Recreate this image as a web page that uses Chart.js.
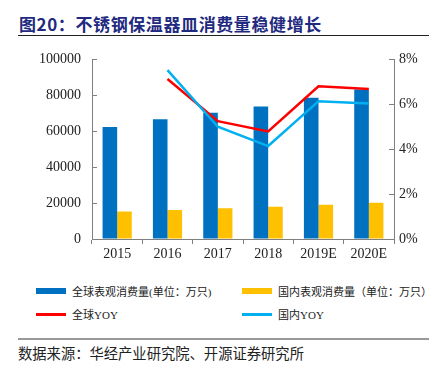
<!DOCTYPE html>
<html>
<head>
<meta charset="utf-8">
<script src="https://cdn.jsdelivr.net/npm/chart.js@4"></script>
<style>
    body { margin: 0; width: 441px; height: 373px; background: #fff; position: relative; overflow: hidden; }
    #title { position: absolute; left: 19px; top: 11px; font: bold 17px "Noto Sans CJK SC"; letter-spacing: 0.6px; color: #1f2a80; white-space: nowrap; }
    #titleLine { position: absolute; left: 18px; top: 35px; width: 411px; height: 1px; background: #222; }
    #chartBox { position: absolute; left: 0; top: 40px; width: 441px; height: 224px; }
    .legend-item { position: absolute; font: 11px "Liberation Serif", "Noto Sans CJK SC"; color: #222; white-space: nowrap; display: flex; align-items: center; }
    .swatch { width: 30px; margin-right: 6px; }
    #sourceLine { position: absolute; left: 18px; top: 338px; width: 411px; height: 1.5px; background: #999; }
    #source { position: absolute; left: 18px; top: 342px; font: 14.3px "Noto Sans CJK SC"; color: #222; white-space: nowrap; }
</style>
</head>
<body>
<div id="title">图20：不锈钢保温器皿消费量稳健增长</div>
<div id="titleLine"></div>
<div id="chartBox"><canvas id="myChart" width="441" height="224"></canvas></div>
<div id="legend"></div>
<div id="sourceLine"></div>
<div id="source">数据来源：华经产业研究院、开源证券研究所</div>
<script>
// Chart data
const years = ['2015', '2016', '2017', '2018', '2019E', '2020E'];
const globalConsumption = [62300, 66700, 70300, 73800, 78700, 83200];
const domesticConsumption = [15300, 16200, 17100, 18000, 19100, 20200];
const globalYoy = [null, 7.13, 5.25, 4.79, 6.8, 6.68];
const domesticYoy = [null, 7.52, 5.0, 4.14, 6.14, 6.04];
const leftTicks = [0, 20000, 40000, 60000, 80000, 100000];
const rightTicks = [0, 2, 4, 6, 8];

const tickFont = { family: 'Liberation Serif', size: 14 };
const axisColor = '#7f7f7f';

// Small tick marks pointing into the plot on both value axes
const innerTicks = {
    id: 'innerTicks',
    afterDraw(chart) {
        const ctx = chart.ctx;
        ctx.save();
        ctx.strokeStyle = axisColor;
        ctx.lineWidth = 1;
        ['y', 'y1'].forEach(id => {
            const scale = chart.scales[id];
            scale.ticks.forEach(t => {
                const py = Math.round(scale.getPixelForValue(t.value)) + 0.5;
                ctx.beginPath();
                if (id === 'y') {
                    ctx.moveTo(scale.right, py);
                    ctx.lineTo(scale.right + 5, py);
                } else {
                    ctx.moveTo(scale.left - 5, py);
                    ctx.lineTo(scale.left, py);
                }
                ctx.stroke();
            });
        });
        ctx.restore();
    }
};

const ctx = document.getElementById('myChart').getContext('2d');
const myChart = new Chart(ctx, {
    type: 'bar',
    data: {
        labels: years,
        datasets: [{
            label: '全球YOY',
            type: 'line',
            data: globalYoy,
            yAxisID: 'y1',
            borderColor: '#ff0000',
            borderWidth: 2.5,
            pointRadius: 0,
            tension: 0,
            order: 1
        }, {
            label: '国内YOY',
            type: 'line',
            data: domesticYoy,
            yAxisID: 'y1',
            borderColor: '#00b0f0',
            borderWidth: 2.5,
            pointRadius: 0,
            tension: 0,
            order: 0
        }, {
            label: '全球表观消费量(单位：万只)',
            data: globalConsumption,
            yAxisID: 'y',
            backgroundColor: '#0070c0',
            barPercentage: 1,
            categoryPercentage: 0.58,
            order: 3
        }, {
            label: '国内表观消费量（单位：万只）',
            data: domesticConsumption,
            yAxisID: 'y',
            backgroundColor: '#ffc000',
            barPercentage: 1,
            categoryPercentage: 0.58,
            order: 3
        }]
    },
    options: {
        responsive: false,
        animation: false,
        layout: { padding: { top: 16, left: 0, right: 0, bottom: 0 } },
        plugins: {
            legend: { display: false },
            tooltip: { enabled: false }
        },
        scales: {
            x: {
                grid: { offset: true, drawOnChartArea: false, color: axisColor, tickLength: 5 },
                border: { color: axisColor, width: 1 },
                ticks: { font: tickFont, color: '#222', padding: 2, maxRotation: 0 },
                afterFit: s => { s.height = 25; }
            },
            y: {
                position: 'left',
                min: 0,
                max: 100000,
                afterBuildTicks: s => { s.ticks = leftTicks.map(v => ({ value: v })); },
                grid: { drawOnChartArea: false, drawTicks: false },
                border: { color: axisColor, width: 1 },
                ticks: { font: tickFont, color: '#222', padding: 11, callback: v => String(v) },
                afterFit: s => { s.width = 92; }
            },
            y1: {
                position: 'right',
                min: 0,
                max: 8,
                afterBuildTicks: s => { s.ticks = rightTicks.map(v => ({ value: v })); },
                grid: { drawOnChartArea: false, drawTicks: false },
                border: { color: axisColor, width: 1 },
                ticks: { font: tickFont, color: '#222', padding: 5, callback: v => v + '%' },
                afterFit: s => { s.width = 47; }
            }
        }
    },
    plugins: [innerTicks]
});

// HTML legend built from the datasets, laid out in two columns
const legendSpots = [
    { ds: 2, left: 36, top: 283, h: 6 },
    { ds: 3, left: 242, top: 283, h: 6 },
    { ds: 0, left: 36, top: 306, h: 3 },
    { ds: 1, left: 242, top: 306, h: 3 }
];
const legendBox = document.getElementById('legend');
legendSpots.forEach(spot => {
    const ds = myChart.data.datasets[spot.ds];
    const item = document.createElement('div');
    item.className = 'legend-item';
    item.style.left = spot.left + 'px';
    item.style.top = spot.top + 'px';
    item.style.height = '16px';
    const sw = document.createElement('span');
    sw.className = 'swatch';
    sw.style.height = spot.h + 'px';
    sw.style.background = ds.type === 'line' ? ds.borderColor : ds.backgroundColor;
    const txt = document.createElement('span');
    txt.textContent = ds.label;
    item.appendChild(sw);
    item.appendChild(txt);
    legendBox.appendChild(item);
});
</script>
</body>
</html>
